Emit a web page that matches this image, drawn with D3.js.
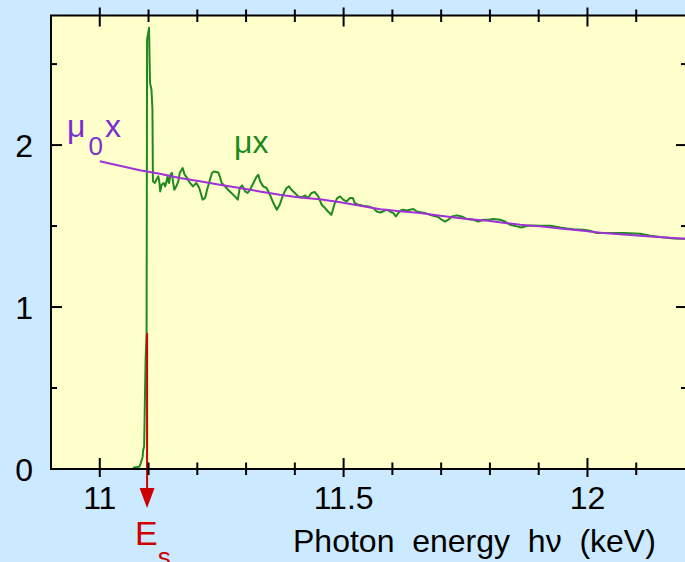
<!DOCTYPE html>
<html>
<head>
<meta charset="utf-8">
<script src="https://cdn.jsdelivr.net/npm/d3@7"></script>
<style>
  html, body { margin: 0; padding: 0; background: #cceaff; }
  svg { display: block; font-family: "Liberation Sans", Arial, Helvetica, sans-serif; }
</style>
</head>
<body>
<svg id="chart" width="685" height="562"></svg>
<script>
// Measured absorbance μx (green) versus photon energy (keV)
const energyMu = [11.068, 11.081, 11.084, 11.088, 11.089, 11.091, 11.093, 11.094, 11.096, 11.097,
  11.101, 11.103, 11.106, 11.108, 11.109, 11.113, 11.116, 11.120, 11.122, 11.124,
  11.127, 11.131, 11.134, 11.137, 11.139, 11.142, 11.145, 11.148, 11.150, 11.153,
  11.157, 11.161, 11.164, 11.170, 11.174, 11.179, 11.185, 11.191, 11.198, 11.204,
  11.207, 11.211, 11.216, 11.220, 11.224, 11.230, 11.234, 11.243, 11.246, 11.250,
  11.257, 11.263, 11.270, 11.277, 11.283, 11.287, 11.292, 11.298, 11.303, 11.308,
  11.315, 11.322, 11.325, 11.329, 11.335, 11.342, 11.349, 11.356, 11.363, 11.369,
  11.376, 11.383, 11.388, 11.393, 11.400, 11.407, 11.414, 11.421, 11.427, 11.434,
  11.441, 11.448, 11.455, 11.462, 11.468, 11.475, 11.482, 11.487, 11.493, 11.499,
  11.506, 11.513, 11.519, 11.523, 11.530, 11.540, 11.551, 11.561, 11.568, 11.575,
  11.581, 11.588, 11.595, 11.602, 11.607, 11.612, 11.617, 11.622, 11.629, 11.636,
  11.643, 11.650, 11.660, 11.667, 11.677, 11.684, 11.694, 11.701, 11.708, 11.715,
  11.722, 11.732, 11.742, 11.753, 11.766, 11.776, 11.787, 11.797, 11.807, 11.821,
  11.831, 11.841, 11.855, 11.865, 11.876, 11.889, 11.903, 11.924, 11.944, 11.958,
  11.971, 11.992, 12.005, 12.019, 12.040, 12.074, 12.108, 12.129, 12.149, 12.177,
  12.201];
const muX = [0.008, 0.014, 0.035, 0.076, 0.117, 0.138, 0.509, 0.674, 0.839, 2.651,
  2.724, 2.384, 2.342, 2.219, 1.776, 1.766, 1.786, 1.807, 1.776, 1.714,
  1.755, 1.766, 1.745, 1.776, 1.807, 1.766, 1.817, 1.828, 1.776, 1.724,
  1.745, 1.776, 1.828, 1.858, 1.817, 1.797, 1.766, 1.745, 1.766, 1.735,
  1.704, 1.663, 1.673, 1.724, 1.766, 1.828, 1.837, 1.831, 1.807, 1.766,
  1.745, 1.724, 1.704, 1.683, 1.663, 1.735, 1.751, 1.714, 1.704, 1.724,
  1.766, 1.807, 1.817, 1.776, 1.745, 1.735, 1.693, 1.642, 1.601, 1.632,
  1.693, 1.735, 1.745, 1.724, 1.704, 1.683, 1.677, 1.689, 1.673, 1.704,
  1.710, 1.683, 1.632, 1.611, 1.590, 1.570, 1.642, 1.673, 1.683, 1.663,
  1.652, 1.673, 1.673, 1.642, 1.632, 1.625, 1.621, 1.611, 1.590, 1.584,
  1.590, 1.601, 1.590, 1.580, 1.559, 1.580, 1.596, 1.601, 1.596, 1.601,
  1.605, 1.590, 1.584, 1.580, 1.570, 1.564, 1.556, 1.539, 1.528, 1.539,
  1.559, 1.566, 1.559, 1.543, 1.539, 1.528, 1.539, 1.539, 1.543, 1.539,
  1.528, 1.508, 1.498, 1.491, 1.502, 1.504, 1.502, 1.502, 1.491, 1.485,
  1.481, 1.477, 1.471, 1.457, 1.457, 1.457, 1.452, 1.440, 1.432, 1.423,
  1.421];

// Background absorbance μ0x (purple)
const energyMu0 = [11.000, 11.082, 11.123, 11.164, 11.205, 11.246, 11.287, 11.328, 11.369, 11.410,
  11.451, 11.493, 11.534, 11.575, 11.616, 11.657, 11.698, 11.753, 11.796, 11.831,
  11.862, 11.903, 11.944, 11.991, 12.032, 12.081, 12.129, 12.176, 12.200];
const mu0X = [1.900, 1.844, 1.823, 1.797, 1.776, 1.755, 1.735, 1.714, 1.693, 1.677,
  1.666, 1.647, 1.625, 1.604, 1.591, 1.580, 1.564, 1.543, 1.533, 1.519,
  1.508, 1.498, 1.485, 1.471, 1.457, 1.446, 1.436, 1.426, 1.421];

// Edge energy E_s and the top of its marker arrow
const edgeEnergy = 11.097;
const edgeMarkerTop = 0.839;

// Axis ticks
const xMajorTicks = [11, 11.5, 12];
const xMajorLabels = ["11", "11.5", "12"];
const xMinorTicks = [11.1, 11.2, 11.3, 11.4, 11.6, 11.7, 11.8, 11.9, 12.1];
const yMajorTicks = [0, 1, 2];
const yMajorLabels = ["0", "1", "2"];
const yMinorTicks = [0.5, 1.5, 2.5];

const W = 685, H = 562;
const svg = d3.select("#chart");

const x = d3.scaleLinear().domain([10.9, 12.2]).range([51, 685]);
const y = d3.scaleLinear().domain([0, 2.8]).range([469, 15.5]);

const plotLeft = x.range()[0], plotRight = x.range()[1] + 2;
const plotTop = y.range()[1], plotBottom = y.range()[0];

// page background
svg.append("rect").attr("width", W).attr("height", H).attr("fill", "#cceaff");

// plot area
svg.append("rect")
  .attr("x", plotLeft).attr("y", plotTop)
  .attr("width", plotRight - plotLeft).attr("height", plotBottom - plotTop)
  .attr("fill", "#ffffcc");

svg.append("clipPath").attr("id", "plotClip")
  .append("rect").attr("x", plotLeft).attr("y", plotTop)
  .attr("width", plotRight - plotLeft).attr("height", plotBottom - plotTop);

const plot = svg.append("g").attr("clip-path", "url(#plotClip)");

const line = d3.line().x(d => x(d[0])).y(d => y(d[1]));

// μx curve
plot.append("path")
  .datum(energyMu.map((e, i) => [e, muX[i]]))
  .attr("d", line)
  .attr("fill", "none")
  .attr("stroke", "#1e8a1e")
  .attr("stroke-width", 2)
  .attr("stroke-linejoin", "round");

// μ0x curve
plot.append("path")
  .datum(energyMu0.map((e, i) => [e, mu0X[i]]))
  .attr("d", line)
  .attr("fill", "none")
  .attr("stroke", "#a030d8")
  .attr("stroke-width", 2)
  .attr("stroke-linejoin", "round");

// edge marker (red line + arrow below the axis)
const ex = x(edgeEnergy);
const arrowTip = plotBottom + 39, arrowBase = plotBottom + 19;
svg.append("line")
  .attr("x1", ex).attr("x2", ex)
  .attr("y1", y(edgeMarkerTop)).attr("y2", arrowBase + 2)
  .attr("stroke", "#cc0000").attr("stroke-width", 2);
svg.append("path")
  .attr("d", `M${ex - 7.5},${arrowBase} L${ex + 7.5},${arrowBase} L${ex},${arrowTip} Z`)
  .attr("fill", "#cc0000");

// frame
svg.append("rect")
  .attr("x", plotLeft).attr("y", plotTop)
  .attr("width", plotRight - plotLeft).attr("height", plotBottom - plotTop)
  .attr("fill", "none").attr("stroke", "#000").attr("stroke-width", 2);

const axes = svg.append("g").attr("stroke", "#000").attr("stroke-width", 2);

// x ticks on top and bottom, crossing the axis lines
function xTickMarks(vals, inner, outer) {
  axes.selectAll(null).data(vals).join("line")
    .attr("x1", d => x(d)).attr("x2", d => x(d))
    .attr("y1", plotBottom - inner).attr("y2", plotBottom + outer);
  axes.selectAll(null).data(vals).join("line")
    .attr("x1", d => x(d)).attr("x2", d => x(d))
    .attr("y1", plotTop - outer).attr("y2", plotTop + inner);
}
xTickMarks(xMajorTicks, 11, 8);
xTickMarks(xMinorTicks, 6.5, 6);

// y ticks, inward on left and right
function yTickMarks(vals, len) {
  axes.selectAll(null).data(vals).join("line")
    .attr("x1", plotLeft).attr("x2", plotLeft + len)
    .attr("y1", d => y(d)).attr("y2", d => y(d));
  axes.selectAll(null).data(vals).join("line")
    .attr("x1", plotRight - len).attr("x2", plotRight)
    .attr("y1", d => y(d)).attr("y2", d => y(d));
}
yTickMarks(yMajorTicks, 11);
yTickMarks(yMinorTicks, 6);

// tick labels
svg.selectAll(null).data(xMajorTicks).join("text")
  .attr("x", d => x(d)).attr("y", plotBottom + 40)
  .attr("text-anchor", "middle")
  .attr("font-size", 32).attr("fill", "#000")
  .text((d, i) => xMajorLabels[i]);

svg.selectAll(null).data(yMajorTicks).join("text")
  .attr("x", plotLeft - 18).attr("y", d => y(d) + 12)
  .attr("text-anchor", "end")
  .attr("font-size", 32).attr("fill", "#000")
  .text((d, i) => yMajorLabels[i]);

// axis title
svg.append("text")
  .attr("x", 293).attr("y", 552)
  .attr("font-size", 32).attr("fill", "#000")
  .style("white-space", "pre")
  .text("Photon  energy  hν  (keV)");

// curve labels
const mu0Label = svg.append("text")
  .attr("x", 67).attr("y", 137)
  .attr("font-size", 32).attr("fill", "#7a2fd0");
mu0Label.append("tspan").text("μ");
mu0Label.append("tspan").attr("font-size", 26).attr("dx", 3).attr("dy", 18).text("0");
mu0Label.append("tspan").attr("dx", 2).attr("dy", -18).text("x");

svg.append("text")
  .attr("x", 234).attr("y", 153)
  .attr("font-size", 32).attr("fill", "#1e8a1e")
  .text("μx");

// edge label (its subscript runs off the bottom edge)
const esLabel = svg.append("text")
  .attr("x", ex - 12).attr("y", 545)
  .attr("font-size", 34).attr("fill", "#cc0000");
esLabel.append("tspan").text("E");
esLabel.append("tspan").attr("font-size", 26).attr("dy", 21).text("s");
</script>
</body>
</html>
